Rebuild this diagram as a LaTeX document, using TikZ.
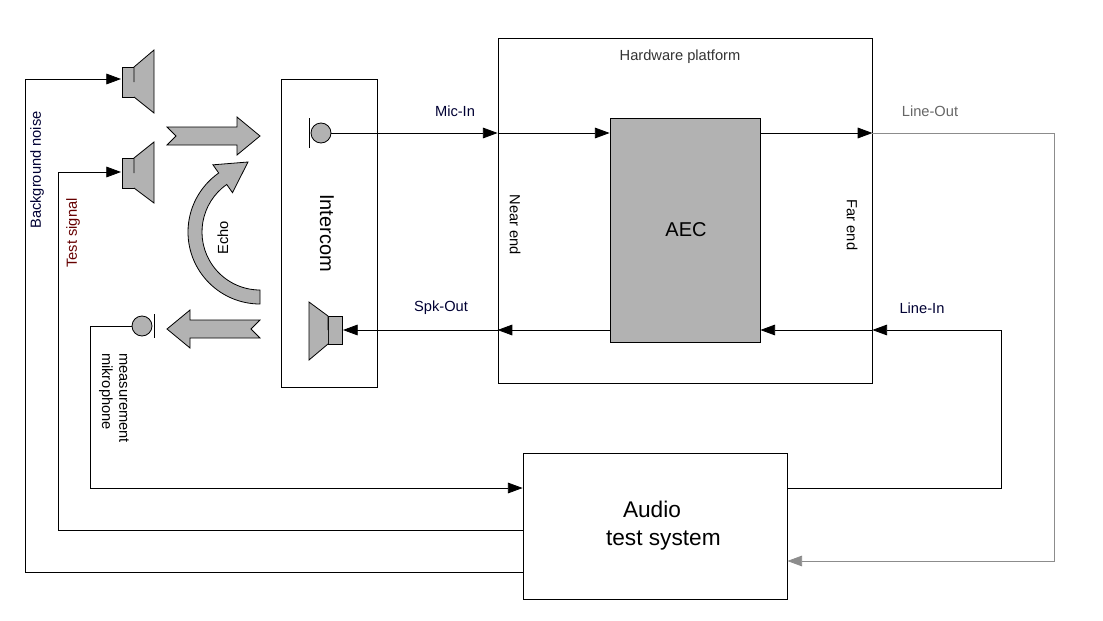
\documentclass[tikz,border=0pt]{standalone}
\usepackage{fontspec}
\setmainfont{Liberation Sans}
\usetikzlibrary{arrows.meta,calc}
\begin{document}
\begin{tikzpicture}[x=0.75pt,y=-0.75pt,
  tip/.style={-{Triangle[length=11pt,width=8pt]}},
  box/.style={draw,line width=0.6pt,inner sep=0},
  gfill/.style={draw,line width=0.6pt,fill=black!30},
  wire/.style={line width=0.6pt},
  lbl/.style={text=blue!20!black,font=\fontsize{11}{13}\selectfont}]
\useasboundingbox (0,0) rectangle (1103,621);
% boxes
\node[box,minimum width=96*0.75pt,minimum height=308*0.75pt] (ic) at (329,233) {};
\node[rotate=-90,font=\fontsize{15}{17}\selectfont] at (327,233) {Intercom};
\node[box,minimum width=374*0.75pt,minimum height=345*0.75pt] (hw) at (685,210.5) {};
\node[gfill,minimum width=150*0.75pt,minimum height=224*0.75pt] (aec) at (685,230) {};
\node[font=\fontsize{15}{17}\selectfont] at (686,230) {AEC};
\node[box,minimum width=264*0.75pt,minimum height=146*0.75pt] (ats) at (655,526) {};
\node[align=center,font=\fontsize{17}{21}\selectfont] at (652,526) {Audio\\\hspace*{1em}test system};
\node[font=\fontsize{11}{13}\selectfont,text=black!80] at (680,57) {Hardware platform};
% speakers
\draw[gfill] (122,67) rectangle (134,97); \draw[gfill] (134,82)--(134,67)--(154,50)--(154,113)--(134,97);
\draw[gfill] (122,158) rectangle (134,188); \draw[gfill] (134,173)--(134,158)--(154,142)--(154,203)--(134,188);
\draw[gfill] (328,316) rectangle (342,344); \draw[gfill] (328,330)--(328,316)--(309,302)--(309,360)--(328,344);
% mics
\draw[gfill] (142,326) circle (10); \draw[wire] (154,314)--(154,338);
\draw[gfill] (321,133) circle (10); \draw[wire] (309,118)--(309,148);
\coordinate (s1) at (121,79); \coordinate (s2) at (121,172);
\coordinate (m1) at (132,326); \coordinate (m2) at (331,133);
\coordinate (s3) at (343,330);
% block arrows
\draw[gfill] (167,127)--(237,127)--(237,117)--(260,136)--(237,155)--(237,145)--(167,145)--(176,136)--cycle;
\draw[gfill] (260,320)--(190,320)--(190,310)--(167,329)--(190,348)--(190,338)--(260,338)--(251,329)--cycle;
\coordinate (c) at (260,232);
\draw[gfill] ($(c)+(90:72)$) arc[start angle=90,end angle=235,radius=72] -- ($(c)+(235:82)$) -- (248,162) -- ($(c)+(235:48)$) -- ($(c)+(235:58)$) arc[start angle=235,end angle=90,radius=58] -- cycle;
\node[rotate=90,font=\fontsize{11}{13}\selectfont] at (223,238) {Echo};
% wires
\draw[wire,tip] (ats.west|-0,572) -| (25,79) -- (s1);
\draw[wire,tip] (ats.west|-0,530) -| (58,172) -- (s2);
\draw[wire,tip] (m1) -| (90,488) -- (ats.west|-0,488);
\draw[wire,tip] (m2) -- (hw.west|-0,133);
\draw[wire,tip] (hw.west|-0,133) -- (aec.west|-0,133);
\draw[wire,tip] (aec.east|-0,133) -- (hw.east|-0,133);
\draw[line width=0.6pt,draw=black!45,tip] (hw.east|-0,133) -- (1054,133) |- (ats.east|-0,561);
\draw[wire,tip] (ats.east|-0,488) -| (1001,330) -- (hw.east|-0,330);
\draw[wire,tip] (hw.east|-0,330) -- (aec.east|-0,330);
\draw[wire,tip] (aec.west|-0,330) -- (hw.west|-0,330);
\draw[wire,tip] (hw.west|-0,330) -- (s3);
% labels
\node[lbl] at (455,111) {Mic-In};
\node[lbl,text=black!60] at (930,111) {Line-Out};
\node[lbl] at (441,308) {Spk-Out};
\node[lbl] at (922,308) {Line-In};
\node[lbl,text=black,rotate=-90] at (515,225) {Near end};
\node[lbl,text=black,rotate=-90] at (852,225) {Far end};
\node[lbl,rotate=90] at (37,170) {Background noise};
\node[lbl,text=red!40!black,rotate=90] at (73,233) {Test signal};
\node[lbl,text=black,rotate=-90,align=left] at (114,398) {measurement\\mikrophone};
\end{tikzpicture}
\end{document}
